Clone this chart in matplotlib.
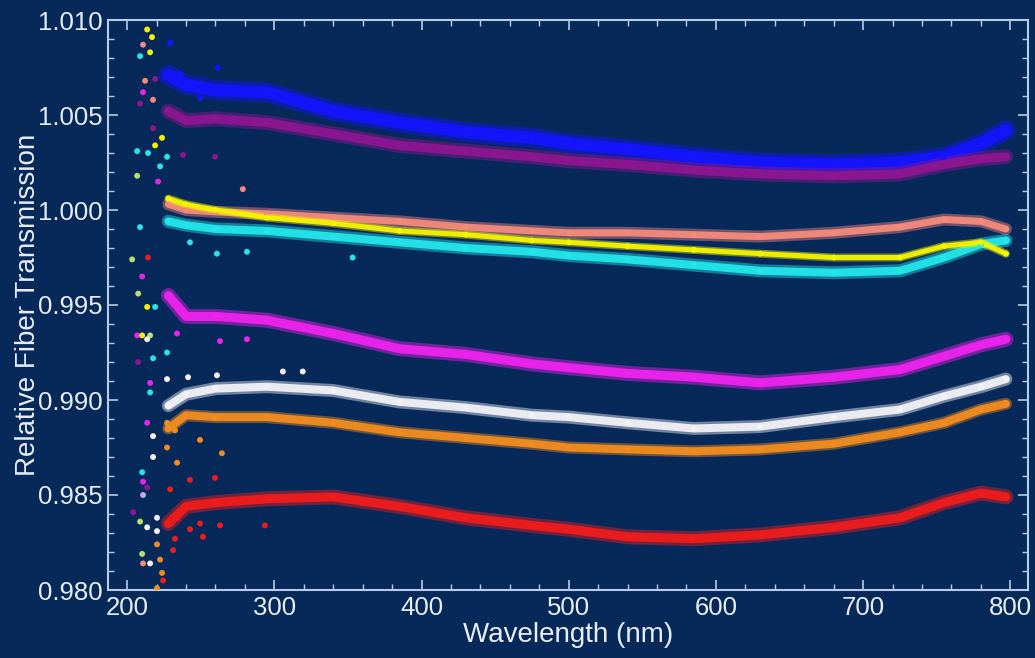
import matplotlib
matplotlib.use("Agg")
import matplotlib.pyplot as plt
from matplotlib.ticker import MultipleLocator, FormatStrFormatter

plt.rcParams['font.family'] = ['Liberation Sans', 'DejaVu Sans']

# Sampling wavelengths (nm) shared by all fibers
wavelength = [228, 240, 260, 295, 340, 385, 430, 475, 500, 540, 585, 630,
              680, 725, 755, 780, 797]

# Relative transmission of each fiber
fiber_blue = [1.0071, 1.0066, 1.0063, 1.0062, 1.0052, 1.0046, 1.0041, 1.0038,
              1.0035, 1.0032, 1.0028, 1.0025, 1.0024, 1.0025, 1.0028, 1.0035, 1.0042]
fiber_purple = [1.0052, 1.0047, 1.0048, 1.0046, 1.0040, 1.0034, 1.0031, 1.0028,
                1.0026, 1.0024, 1.0021, 1.0019, 1.0018, 1.0019, 1.0024, 1.0027, 1.0028]
fiber_salmon = [1.0003, 1.0000, 0.9999, 0.9998, 0.9996, 0.9994, 0.9991, 0.9989,
                0.9988, 0.9988, 0.9987, 0.9986, 0.9988, 0.9991, 0.9995, 0.9994, 0.9990]
fiber_yellow = [1.0006, 1.0003, 1.0000, 0.9996, 0.9993, 0.9989, 0.9987, 0.9984,
                0.9983, 0.9981, 0.9979, 0.9977, 0.9975, 0.9975, 0.9981, 0.9983, 0.9977]
fiber_cyan = [0.9994, 0.9992, 0.9990, 0.9989, 0.9986, 0.9983, 0.9980, 0.9978,
              0.9976, 0.9974, 0.9971, 0.9968, 0.9967, 0.9968, 0.9975, 0.9982, 0.9984]
fiber_magenta = [0.9955, 0.9944, 0.9944, 0.9942, 0.9935, 0.9927, 0.9924, 0.9919,
                 0.9917, 0.9914, 0.9912, 0.9909, 0.9912, 0.9916, 0.9923, 0.9929, 0.9932]
fiber_white = [0.9897, 0.9903, 0.9906, 0.9907, 0.9905, 0.9899, 0.9896, 0.9892,
               0.9891, 0.9888, 0.9885, 0.9886, 0.9891, 0.9895, 0.9902, 0.9907, 0.9911]
fiber_orange = [0.9885, 0.9892, 0.9891, 0.9891, 0.9888, 0.9883, 0.9880, 0.9877,
                0.9875, 0.9874, 0.9873, 0.9874, 0.9877, 0.9883, 0.9888, 0.9895, 0.9898]
fiber_red = [0.9835, 0.9844, 0.9846, 0.9848, 0.9849, 0.9844, 0.9838, 0.9834,
             0.9832, 0.9828, 0.9827, 0.9829, 0.9833, 0.9838, 0.9846, 0.9851, 0.9849]

# Isolated short-wavelength samples (wavelength, transmission, fiber colour)
stray_wl = [213.6, 216.9, 210.8, 215.6, 208.8, 212.2, 219.0, 217.6, 210.8, 208.8,
            217.6, 223.7, 219.0, 206.8, 214.2, 227.1, 222.4, 206.8, 221.0, 203.4,
            208.8, 210.2, 214.2, 207.5, 213.6, 219.0, 206.8, 210.2, 215.6, 213.6,
            227.1, 207.5, 217.6, 215.6, 215.6, 213.6, 217.6, 210.2, 210.8, 213.6,
            210.8, 204.1, 208.8, 220.3, 213.6, 220.3, 210.2, 210.8, 215.6, 220.3,
            222.4, 223.7, 220.3, 224.4,
            229.2, 242.7, 259.7, 233.9, 249.5, 263.1, 232.5, 242.7, 251.5, 231.2, 293.6,
            227.1, 232.5, 227.1, 233.9, 264.4, 249.5,
            227.1, 241.4, 261.0, 305.8, 319.3, 217.6,
            233.9, 263.1, 281.4,
            242.7, 261.0, 281.4, 353.2,
            278.6,
            229.2, 235.9, 261.7, 249.5,
            238.0, 259.7]
stray_val = [1.0095, 1.0091, 1.0087, 1.0083, 1.0081, 1.0068, 1.0069, 1.0058, 1.0062, 1.0056,
             1.0043, 1.0038, 1.0034, 1.0031, 1.0030, 1.0028, 1.0023, 1.0018, 1.0015, 0.9974,
             0.9991, 0.9965, 0.9975, 0.9956, 0.9949, 0.9949, 0.9934, 0.9934, 0.9934, 0.9932,
             0.9925, 0.9920, 0.9922, 0.9909, 0.9904, 0.9888, 0.9881, 0.9862, 0.9857, 0.9854,
             0.9850, 0.9841, 0.9836, 0.9838, 0.9833, 0.9831, 0.9819, 0.9814, 0.9814, 0.9824,
             0.9816, 0.9809, 0.9801, 0.9805,
             0.9853, 0.9858, 0.9859, 0.9838, 0.9835, 0.9834, 0.9827, 0.9832, 0.9828, 0.9821, 0.9834,
             0.9888, 0.9884, 0.9875, 0.9867, 0.9872, 0.9879,
             0.9911, 0.9912, 0.9913, 0.9915, 0.9915, 0.9870,
             0.9935, 0.9931, 0.9932,
             0.9983, 0.9977, 0.9978, 0.9975,
             1.0011,
             1.0088, 1.0072, 1.0075, 1.0059,
             1.0029, 1.0028]
stray_col = ['yellow', 'yellow', 'salmon', 'yellow', 'cyan', 'salmon', 'purple', 'salmon', 'magenta', 'purple',
             'purple', 'yellow', 'yellow', 'cyan', 'cyan', 'cyan', 'cyan', 'lime', 'magenta', 'lime',
             'cyan', 'magenta', 'red', 'lime', 'yellow', 'cyan', 'magenta', 'yellow', 'lime', 'white',
             'cyan', 'purple', 'cyan', 'magenta', 'cyan', 'magenta', 'white', 'cyan', 'magenta', 'purple',
             'lavender', 'purple', 'lime', 'white', 'white', 'white', 'lime', 'salmon', 'white', 'orange',
             'orange', 'orange', 'orange', 'red',
             'red', 'red', 'red', 'red', 'red', 'red', 'red', 'red', 'red', 'red', 'red',
             'orange', 'orange', 'orange', 'orange', 'orange', 'orange',
             'white', 'white', 'white', 'white', 'white', 'white',
             'magenta', 'magenta', 'magenta',
             'cyan', 'cyan', 'cyan', 'cyan',
             'salmon',
             'blue', 'blue', 'blue', 'blue',
             'purple', 'purple']

palette = {
    'blue': '#1414ff', 'purple': '#8e1690', 'salmon': '#f58a7c',
    'yellow': '#f4f400', 'cyan': '#22e6ea', 'magenta': '#ee22ee',
    'white': '#f2f2f6', 'orange': '#f28c1e', 'red': '#f01c1c',
    'lime': '#b8e070', 'lavender': '#c8a8e8',
}

# (values, colour, core width px, halo width px) in drawing order
fibers = [
    (fiber_blue, 'blue', 12, 20),
    (fiber_purple, 'purple', 9, 15),
    (fiber_cyan, 'cyan', 8, 13),
    (fiber_salmon, 'salmon', 7, 12),
    (fiber_yellow, 'yellow', 5, 8),
    (fiber_magenta, 'magenta', 9, 15),
    (fiber_white, 'white', 8, 13),
    (fiber_orange, 'orange', 8, 12),
    (fiber_red, 'red', 9, 15),
]

bg = '#06295a'
fg = '#e8eef8'
dpi = 100
px = 72.0 / dpi

fig = plt.figure(figsize=(10.35, 6.58), dpi=dpi, facecolor=bg)
ax = fig.add_axes([108 / 1035, 1 - 590 / 658, (1028 - 108) / 1035, (590 - 20) / 658])
ax.set_facecolor(bg)

for vals, cname, core, halo in fibers:
    c = palette[cname]
    ax.plot(wavelength, vals, color=c, lw=halo * px, alpha=0.45,
            solid_capstyle='round', solid_joinstyle='round')
    ax.plot(wavelength, vals, color=c, lw=core * px, alpha=0.95,
            solid_capstyle='round', solid_joinstyle='round')
    ax.scatter(wavelength, vals, s=18, color=c, edgecolors='none', zorder=3)

ax.scatter(stray_wl, stray_val, s=18, c=[palette[k] for k in stray_col],
           edgecolors='none', zorder=4)

ax.set_xlim(187, 812)
ax.set_ylim(0.980, 1.010)
ax.xaxis.set_major_locator(MultipleLocator(100))
ax.xaxis.set_minor_locator(MultipleLocator(20))
ax.yaxis.set_major_locator(MultipleLocator(0.005))
ax.yaxis.set_minor_locator(MultipleLocator(0.001))
ax.yaxis.set_major_formatter(FormatStrFormatter('%.3f'))

axis_col = '#b8cce6'
for s in ax.spines.values():
    s.set_color(axis_col)
    s.set_linewidth(1.5)
ax.tick_params(which='both', direction='in', top=True, right=True,
               color=axis_col, labelcolor=fg, labelsize=18.5)
ax.tick_params(which='major', length=7, width=1.2, pad=4)
ax.tick_params(which='minor', length=4, width=1.0)

ax.set_xlabel('Wavelength (nm)', color=fg, fontsize=20, labelpad=2)
ax.set_ylabel('Relative Fiber Transmission', color=fg, fontsize=20, labelpad=-2)

fig.savefig('out.png', dpi=dpi, facecolor=bg)
